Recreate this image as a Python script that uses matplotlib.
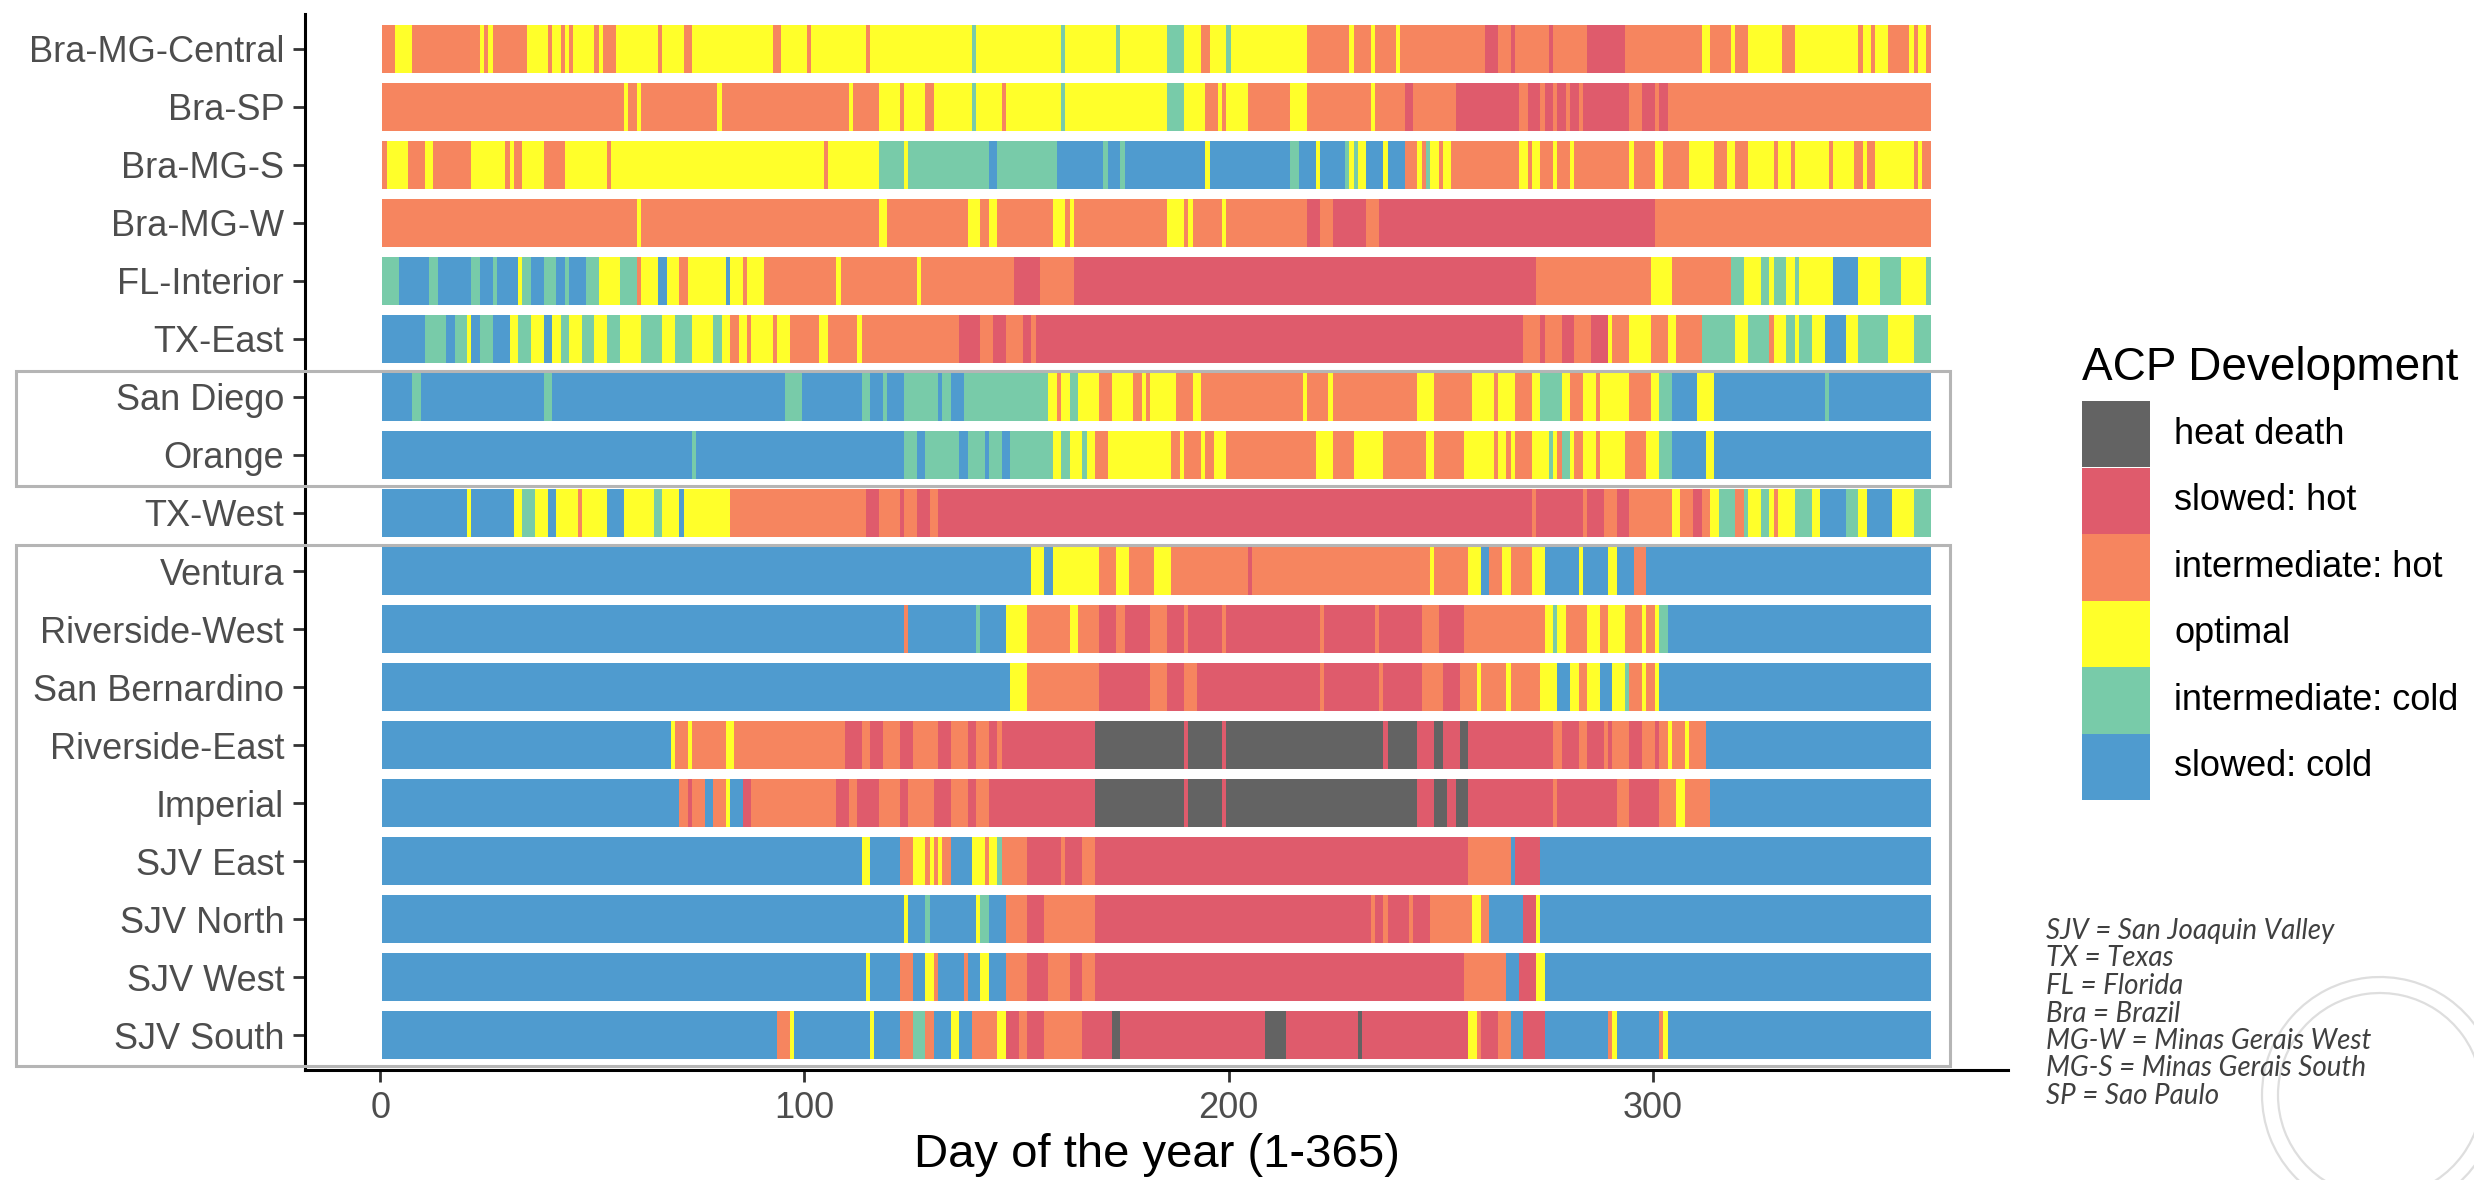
import matplotlib
matplotlib.use("Agg")
import matplotlib.pyplot as plt
from matplotlib.patches import Rectangle, Arc
from matplotlib.transforms import blended_transform_factory

plt.rcParams['font.family'] = ['Liberation Sans', 'DejaVu Sans']

# ---------------- data ----------------
categories = ["heat death", "slowed: hot", "intermediate: hot",
              "optimal", "intermediate: cold", "slowed: cold"]
category_codes = ["D", "H", "h", "O", "c", "C"]
category_colors = ["#636363", "#DF5B6C", "#F6855F", "#FFFF2A", "#78CBA9", "#4F9BCF"]

regions = ["Bra-MG-Central", "Bra-SP", "Bra-MG-S", "Bra-MG-W", "FL-Interior",
           "TX-East", "San Diego", "Orange", "TX-West", "Ventura",
           "Riverside-West", "San Bernardino", "Riverside-East", "Imperial",
           "SJV East", "SJV North", "SJV West", "SJV South"]

day_ticks = [0, 100, 200, 300]
n_days = 365

# runs: (first day of run, category code); each run lasts until the next one starts
bra_mg_central = [(1,'h'),(4,'O'),(8,'h'),(24,'O'),(25,'h'),(26,'O'),(27,'h'),(35,'O'),(40,'h'),(41,'O'),(43,'h'),(44,'O'),(45,'h'),(46,'O'),(51,'h'),(52,'O'),(53,'h'),(56,'O'),(66,'h'),(67,'O'),(72,'h'),(74,'O'),(93,'h'),(95,'O'),(101,'h'),(102,'O'),(115,'h'),(116,'O'),(140,'c'),(141,'O'),(161,'c'),(162,'O'),(174,'c'),(175,'O'),(186,'c'),(190,'O'),(194,'h'),(196,'O'),(200,'c'),(201,'O'),(219,'h'),(229,'O'),(230,'h'),(234,'O'),(235,'h'),(240,'O'),(241,'h'),(261,'H'),(264,'h'),(267,'H'),(268,'h'),(276,'H'),(277,'h'),(285,'H'),(294,'h'),(312,'O'),(314,'h'),(319,'O'),(320,'h'),(323,'O'),(331,'h'),(334,'O'),(349,'h'),(350,'O'),(352,'h'),(353,'O'),(356,'h'),(361,'O'),(362,'h'),(363,'O'),(365,'h')]
bra_sp = [(1,'h'),(58,'O'),(59,'h'),(61,'O'),(62,'h'),(80,'O'),(81,'h'),(111,'O'),(112,'h'),(118,'O'),(123,'h'),(124,'O'),(129,'h'),(131,'O'),(140,'c'),(141,'O'),(147,'h'),(148,'O'),(161,'c'),(162,'O'),(186,'c'),(190,'O'),(195,'h'),(198,'O'),(199,'h'),(200,'O'),(205,'h'),(215,'O'),(219,'h'),(234,'O'),(235,'h'),(242,'H'),(244,'h'),(254,'H'),(269,'h'),(271,'H'),(274,'h'),(275,'H'),(277,'h'),(278,'H'),(280,'h'),(281,'H'),(283,'h'),(284,'H'),(295,'h'),(298,'H'),(301,'h'),(302,'H'),(304,'h')]
bra_mg_s = [(1,'h'),(2,'O'),(7,'h'),(11,'O'),(13,'h'),(22,'O'),(30,'h'),(31,'O'),(32,'h'),(34,'O'),(39,'h'),(44,'O'),(54,'h'),(55,'O'),(105,'h'),(106,'O'),(118,'c'),(124,'O'),(125,'c'),(144,'C'),(146,'c'),(160,'C'),(171,'c'),(172,'C'),(175,'c'),(176,'C'),(195,'O'),(196,'C'),(215,'c'),(217,'C'),(221,'O'),(222,'C'),(228,'c'),(229,'O'),(230,'c'),(231,'O'),(233,'C'),(237,'O'),(238,'C'),(242,'h'),(245,'O'),(246,'h'),(247,'c'),(248,'O'),(250,'h'),(251,'O'),(253,'h'),(269,'O'),(271,'h'),(272,'O'),(274,'h'),(277,'O'),(278,'h'),(281,'O'),(282,'h'),(295,'O'),(296,'h'),(301,'O'),(303,'h'),(309,'O'),(315,'h'),(318,'O'),(320,'h'),(323,'O'),(329,'h'),(330,'O'),(333,'h'),(334,'O'),(342,'h'),(343,'O'),(348,'h'),(350,'O'),(351,'h'),(353,'O'),(362,'h'),(363,'O'),(364,'h')]
bra_mg_w = [(1,'h'),(61,'O'),(62,'h'),(118,'O'),(120,'h'),(139,'O'),(142,'h'),(144,'O'),(146,'h'),(159,'O'),(162,'h'),(163,'O'),(164,'h'),(186,'O'),(190,'h'),(191,'O'),(192,'h'),(199,'O'),(200,'h'),(219,'H'),(222,'h'),(225,'H'),(233,'h'),(236,'H'),(301,'h')]
fl_interior = [(1,'c'),(5,'C'),(12,'c'),(14,'C'),(22,'c'),(24,'C'),(27,'c'),(28,'C'),(33,'O'),(34,'c'),(36,'C'),(39,'c'),(42,'C'),(44,'c'),(45,'C'),(49,'c'),(52,'O'),(57,'c'),(61,'h'),(62,'O'),(66,'C'),(68,'O'),(71,'h'),(73,'O'),(82,'C'),(83,'O'),(86,'h'),(87,'O'),(91,'h'),(108,'O'),(109,'h'),(127,'O'),(128,'h'),(150,'H'),(156,'h'),(164,'H'),(273,'h'),(300,'O'),(305,'h'),(319,'c'),(322,'O'),(326,'c'),(328,'O'),(329,'c'),(332,'O'),(334,'c'),(335,'O'),(343,'C'),(349,'O'),(354,'c'),(359,'O'),(365,'c')]
tx_east = [(1,'C'),(11,'c'),(16,'C'),(18,'c'),(21,'O'),(22,'C'),(24,'c'),(27,'C'),(31,'O'),(33,'c'),(36,'O'),(39,'C'),(41,'O'),(43,'c'),(45,'O'),(48,'c'),(51,'O'),(54,'c'),(57,'O'),(62,'c'),(67,'O'),(70,'c'),(74,'O'),(79,'c'),(81,'O'),(83,'h'),(85,'O'),(87,'h'),(88,'O'),(93,'h'),(94,'O'),(97,'h'),(104,'O'),(106,'h'),(113,'O'),(114,'h'),(137,'H'),(142,'h'),(145,'H'),(148,'h'),(152,'H'),(154,'h'),(155,'H'),(270,'h'),(274,'H'),(275,'h'),(279,'H'),(282,'h'),(286,'H'),(290,'O'),(291,'h'),(295,'O'),(300,'h'),(304,'O'),(306,'h'),(312,'c'),(320,'O'),(323,'c'),(328,'h'),(329,'O'),(332,'c'),(334,'O'),(335,'c'),(338,'O'),(341,'C'),(346,'O'),(349,'c'),(356,'O'),(362,'c')]
san_diego = [(1,'C'),(8,'c'),(10,'C'),(39,'c'),(41,'C'),(96,'c'),(100,'C'),(114,'c'),(116,'C'),(119,'c'),(120,'C'),(124,'c'),(132,'C'),(133,'c'),(135,'C'),(138,'c'),(158,'O'),(160,'h'),(161,'O'),(163,'c'),(165,'O'),(170,'h'),(173,'O'),(178,'h'),(180,'O'),(181,'h'),(182,'O'),(188,'h'),(192,'O'),(194,'h'),(218,'O'),(219,'h'),(224,'O'),(225,'h'),(245,'O'),(249,'h'),(258,'O'),(263,'h'),(264,'O'),(268,'h'),(272,'O'),(274,'c'),(279,'O'),(281,'h'),(284,'O'),(287,'h'),(288,'O'),(295,'h'),(300,'O'),(302,'c'),(305,'C'),(311,'O'),(315,'C'),(341,'c'),(342,'C')]
orange = [(1,'C'),(74,'c'),(75,'C'),(124,'c'),(127,'C'),(129,'c'),(137,'C'),(139,'c'),(143,'C'),(144,'c'),(147,'C'),(149,'c'),(159,'O'),(161,'c'),(163,'O'),(166,'c'),(167,'O'),(169,'h'),(172,'O'),(187,'h'),(189,'O'),(190,'h'),(194,'O'),(195,'h'),(197,'O'),(200,'h'),(221,'O'),(225,'h'),(230,'O'),(237,'h'),(247,'O'),(249,'h'),(256,'O'),(263,'h'),(264,'O'),(266,'h'),(267,'O'),(268,'h'),(272,'O'),(276,'c'),(277,'O'),(278,'h'),(279,'c'),(281,'O'),(282,'h'),(284,'O'),(287,'h'),(288,'O'),(294,'h'),(299,'O'),(302,'c'),(305,'C'),(313,'O'),(315,'C')]
tx_west = [(1,'C'),(21,'O'),(22,'C'),(32,'O'),(34,'c'),(37,'O'),(40,'C'),(42,'O'),(47,'h'),(48,'O'),(54,'C'),(58,'O'),(65,'c'),(67,'O'),(71,'C'),(72,'O'),(83,'h'),(115,'H'),(118,'h'),(123,'H'),(124,'h'),(127,'H'),(130,'h'),(132,'H'),(272,'h'),(273,'H'),(284,'h'),(285,'H'),(289,'h'),(292,'H'),(295,'h'),(305,'O'),(307,'h'),(310,'H'),(312,'h'),(314,'O'),(316,'c'),(320,'h'),(322,'c'),(323,'O'),(326,'c'),(328,'O'),(329,'h'),(330,'O'),(334,'c'),(338,'O'),(340,'C'),(346,'c'),(349,'O'),(351,'C'),(357,'O'),(362,'c')]
ventura = [(1,'C'),(154,'O'),(157,'C'),(159,'O'),(170,'h'),(174,'O'),(177,'h'),(183,'O'),(187,'h'),(205,'H'),(206,'h'),(248,'O'),(249,'h'),(257,'O'),(260,'C'),(262,'h'),(265,'O'),(267,'h'),(272,'O'),(275,'C'),(283,'O'),(284,'C'),(290,'O'),(292,'C'),(296,'h'),(299,'C')]
riverside_west = [(1,'C'),(124,'h'),(125,'C'),(141,'c'),(142,'C'),(148,'O'),(153,'h'),(163,'O'),(165,'h'),(170,'H'),(174,'h'),(176,'H'),(182,'h'),(186,'H'),(190,'h'),(191,'H'),(199,'h'),(200,'H'),(222,'h'),(223,'H'),(235,'h'),(236,'H'),(246,'h'),(250,'H'),(256,'h'),(275,'O'),(277,'c'),(278,'O'),(280,'h'),(285,'O'),(288,'h'),(290,'O'),(294,'h'),(298,'O'),(299,'h'),(301,'O'),(302,'c'),(304,'C')]
san_bernardino = [(1,'C'),(149,'O'),(153,'h'),(170,'H'),(182,'h'),(186,'H'),(190,'h'),(193,'H'),(222,'h'),(223,'H'),(236,'h'),(237,'H'),(246,'h'),(251,'H'),(255,'h'),(259,'O'),(260,'h'),(266,'O'),(267,'h'),(274,'O'),(278,'C'),(281,'O'),(283,'h'),(285,'O'),(288,'C'),(291,'O'),(294,'c'),(295,'h'),(298,'O'),(299,'h'),(301,'O'),(302,'C')]
riverside_east = [(1,'C'),(69,'O'),(70,'h'),(73,'O'),(74,'h'),(82,'O'),(84,'h'),(110,'H'),(114,'h'),(116,'H'),(119,'h'),(123,'H'),(126,'h'),(132,'H'),(135,'h'),(139,'H'),(141,'h'),(144,'H'),(146,'h'),(147,'H'),(169,'D'),(190,'H'),(191,'D'),(199,'H'),(200,'D'),(237,'H'),(238,'D'),(245,'H'),(249,'D'),(251,'H'),(255,'D'),(257,'H'),(277,'h'),(279,'H'),(283,'h'),(285,'H'),(289,'h'),(290,'H'),(291,'h'),(295,'H'),(298,'h'),(301,'H'),(302,'h'),(304,'O'),(305,'h'),(308,'O'),(309,'h'),(313,'C')]
imperial = [(1,'C'),(71,'h'),(73,'H'),(74,'h'),(77,'C'),(79,'h'),(82,'O'),(83,'C'),(86,'H'),(88,'h'),(108,'H'),(111,'h'),(113,'H'),(118,'h'),(123,'H'),(125,'h'),(131,'H'),(135,'h'),(139,'H'),(141,'h'),(144,'H'),(169,'D'),(190,'H'),(191,'D'),(199,'H'),(200,'D'),(245,'H'),(249,'D'),(252,'H'),(254,'D'),(257,'H'),(277,'h'),(278,'H'),(292,'h'),(295,'H'),(302,'h'),(306,'O'),(308,'h'),(314,'C')]
sjv_east = [(1,'C'),(114,'O'),(116,'C'),(123,'h'),(126,'O'),(129,'h'),(130,'O'),(131,'h'),(132,'O'),(133,'h'),(135,'C'),(140,'O'),(143,'h'),(144,'O'),(146,'c'),(147,'h'),(153,'H'),(161,'h'),(162,'H'),(166,'h'),(169,'H'),(257,'h'),(267,'C'),(268,'H'),(274,'C')]
sjv_north = [(1,'C'),(124,'O'),(125,'C'),(129,'c'),(130,'C'),(141,'O'),(142,'c'),(144,'C'),(148,'h'),(153,'H'),(157,'h'),(169,'H'),(234,'h'),(235,'H'),(237,'h'),(238,'H'),(243,'h'),(244,'H'),(248,'h'),(258,'O'),(260,'h'),(262,'C'),(270,'H'),(273,'O'),(274,'C')]
sjv_west = [(1,'C'),(115,'O'),(116,'C'),(123,'h'),(126,'C'),(129,'O'),(131,'h'),(132,'C'),(138,'h'),(139,'C'),(142,'O'),(144,'C'),(148,'h'),(153,'H'),(158,'h'),(163,'H'),(166,'h'),(169,'H'),(256,'h'),(266,'C'),(269,'H'),(273,'O'),(275,'C')]
sjv_south = [(1,'C'),(94,'h'),(97,'O'),(98,'C'),(116,'O'),(117,'C'),(123,'h'),(126,'c'),(129,'h'),(131,'C'),(135,'O'),(137,'C'),(140,'h'),(146,'O'),(148,'H'),(151,'h'),(153,'H'),(157,'h'),(166,'H'),(173,'D'),(175,'H'),(209,'D'),(214,'H'),(231,'D'),(232,'H'),(257,'O'),(259,'h'),(260,'H'),(264,'h'),(267,'C'),(270,'H'),(275,'C'),(290,'h'),(291,'O'),(292,'C'),(302,'h'),(303,'O'),(304,'C')]

runs_by_region = [bra_mg_central, bra_sp, bra_mg_s, bra_mg_w, fl_interior, tx_east,
                  san_diego, orange, tx_west, ventura, riverside_west, san_bernardino,
                  riverside_east, imperial, sjv_east, sjv_north, sjv_west, sjv_south]

boxed_groups = [("San Diego", "Orange"), ("Ventura", "SJV South")]

footnote_lines = ["SJV = San Joaquin Valley", "TX = Texas", "FL = Florida", "Bra = Brazil",
                  "MG-W = Minas Gerais West", "MG-S = Minas Gerais South", "SP = Sao Paulo"]

# ---------------- figure ----------------
W, H = 2474, 1180
fig = plt.figure(figsize=(W / 100, H / 100), dpi=100)
fig.patch.set_facecolor("white")
ax = fig.add_axes([305 / W, 1 - 1070 / H, (2008 - 305) / W, (1070 - 14) / H])

code_color = dict(zip(category_codes, category_colors))
for row, runs in enumerate(runs_by_region, start=1):
    starts = [s for s, _ in runs]
    ends = starts[1:] + [n_days + 1]
    ax.barh([row] * len(runs), [e - s for s, e in zip(starts, ends)],
            left=[s - 0.5 for s in starts], height=0.83,
            color=[code_color[c] for _, c in runs], linewidth=0, antialiased=False)

ax.set_xlim(-17.75, 383.75)
ax.set_ylim(len(regions) + 0.6, 0.4)

for side in ("top", "right"):
    ax.spines[side].set_visible(False)
for side in ("left", "bottom"):
    ax.spines[side].set_linewidth(2.2)
    ax.spines[side].set_color("black")

ax.set_yticks(range(1, len(regions) + 1))
ax.set_yticklabels(regions)
ax.set_xticks(day_ticks)
ax.tick_params(axis="both", length=8.5, width=2.0, color="#333333",
               labelsize=26, labelcolor="#4D4D4D", pad=6.5)
ax.set_xlabel("Day of the year (1-365)", fontsize=34, color="black")
ax.xaxis.set_label_coords(0.5, -0.060)

# grey group boxes (x in figure pixels, y in data rows)
trans = blended_transform_factory(fig.transFigure, ax.transData)
for first, last in boxed_groups:
    r0 = regions.index(first) + 1
    r1 = regions.index(last) + 1
    top = r0 - 0.45
    bottom = r1 + 0.53
    rect = Rectangle((16 / W, top), (1950 - 16) / W, bottom - top, transform=trans,
                     fill=False, edgecolor="#B5B5B5", linewidth=2.2, clip_on=False)
    fig.add_artist(rect)

# legend (drawn manually, ggplot-like contiguous keys)
key_left, key_w, key_h, key_top = 2082, 68, 66.5, 401
fig.text(key_left / W, 1 - 368 / H, "ACP Development", fontsize=33, color="black",
         ha="left", va="center")
for i, (cat, col) in enumerate(zip(categories, category_colors)):
    fig.add_artist(Rectangle((key_left / W, 1 - (key_top + (i + 1) * key_h) / H),
                             key_w / W, key_h / H, transform=fig.transFigure,
                             facecolor=col, edgecolor="none"))
    fig.text((key_left + key_w + 24) / W, 1 - (key_top + (i + 0.5) * key_h) / H, cat,
             fontsize=26, color="black", ha="left", va="center")

# faint watermark logo (bottom right)
px = fig.dpi_scale_trans
for r, t1, t2 in [(118, 25, 335), (102, 30, 330)]:
    fig.add_artist(Arc((2380 / W, 1 - 1095 / H), 2 * r / W, 2 * r / H,
                       theta1=t1, theta2=t2, transform=fig.transFigure,
                       edgecolor="#DEDEDE", linewidth=1.6))

# footnote
for i, line in enumerate(footnote_lines):
    fig.text(2046 / W, 1 - (931 + i * 27.5) / H, line, fontsize=20, style="italic",
             family=["Lato", "DejaVu Sans"], color="#404040", ha="left", va="center")

fig.savefig("out.png", dpi=100, facecolor="white")
